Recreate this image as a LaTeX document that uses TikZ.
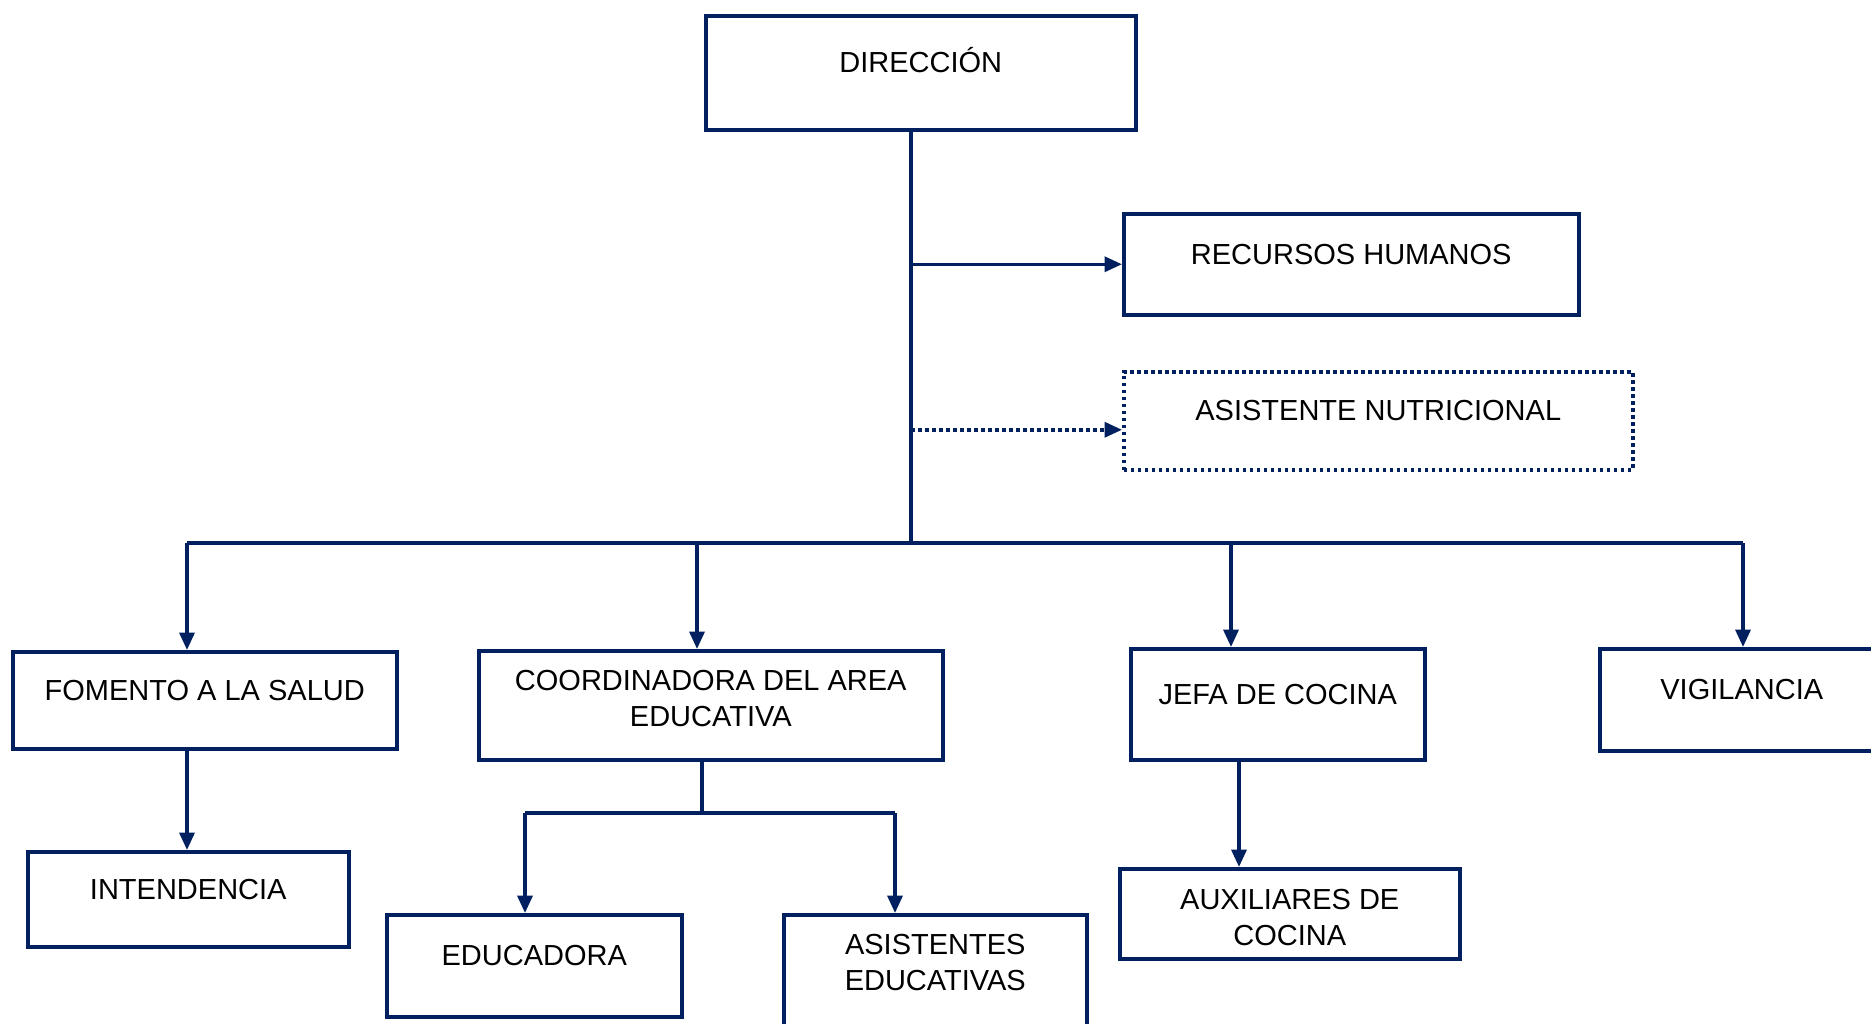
\documentclass[tikz,border=0pt]{standalone}
\usepackage{fontspec}
\setmainfont{Liberation Sans}
\usepackage{tikz}
\usetikzlibrary{calc,arrows.meta}
\definecolor{orgblue}{HTML}{002060}

\begin{document}
\begin{tikzpicture}[x=0.4pt,y=-0.4pt,
        unit/.style={draw=orgblue, line width=1.4pt, rectangle, inner sep=0pt,
            anchor=north west, align=center,
            font=\fontsize{11.6pt}{14.4pt}\selectfont},
        oneline/.style={unit, text height=8.4pt, text depth=8.4pt},
        dottedunit/.style={oneline, dash pattern=on 1.4pt off 1.4pt},
        link/.style={draw=orgblue, line width=1.4pt},
        arrow/.style={link, -{Triangle[length=7pt,width=6pt]}}]
        \useasboundingbox (0,0) rectangle (1871,1023);
        % boxes
        \node[oneline, minimum width=172pt, minimum height=45.6pt] (dir) at (704,14) {DIRECCIÓN};
        \node[oneline, minimum width=182pt, minimum height=40.4pt] (rh) at (1122,212) {RECURSOS HUMANOS};
        \node[dottedunit, minimum width=203.6pt, minimum height=39.2pt] (an) at (1122,370) {ASISTENTE NUTRICIONAL};
        \node[oneline, minimum width=153.6pt, minimum height=38.8pt] (fom) at (11,650) {FOMENTO A LA SALUD};
        \node[unit, minimum width=185.6pt, minimum height=43.6pt, text height=16.7pt, text depth=0pt] (coord) at (477,649) {COORDINADORA DEL AREA\\EDUCATIVA};
        \node[oneline, minimum width=117.6pt, minimum height=44.4pt] (jefa) at (1129,647) {JEFA DE COCINA};
        \node[oneline, minimum width=113.6pt, minimum height=40.8pt] (vig) at (1598,647) {VIGILANCIA};
        \node[oneline, minimum width=128.4pt, minimum height=38pt] (int) at (26,850) {INTENDENCIA};
        \node[oneline, minimum width=118pt, minimum height=40.8pt] (edu) at (385,913) {EDUCADORA};
        \node[unit, minimum width=121.2pt, minimum height=54.8pt, text height=5.5pt, text depth=0pt] (ase) at (782,913) {ASISTENTES\\EDUCATIVAS};
        \node[unit, minimum width=136pt, minimum height=36pt, text height=25.1pt, text depth=0pt] (aux) at (1118,867) {AUXILIARES DE\\COCINA};
        % junctions
        \coordinate (trunk) at (911,543);
        \coordinate (b1) at (187,543);
        \coordinate (b2) at (697,543);
        \coordinate (b3) at (1231,543);
        \coordinate (b4) at (1743,543);
        \coordinate (c0) at (702,813);
        \coordinate (c1) at (525,813);
        \coordinate (c2) at (895,813);
        \coordinate (jx) at (1239,0);
        \coordinate (anin) at ([yshift=-3.6pt]an.west);
        % connectors
        \draw[link] (trunk |- dir.south) -- (trunk);
        \draw[arrow] (trunk |- rh.west) -- (rh.west);
        \draw[arrow, dash pattern=on 1.4pt off 1.4pt] (trunk |- anin) -- (anin);
        \draw[link] (b1) -- (b4);
        \foreach \b/\n in {b1/fom,b2/coord,b3/jefa,b4/vig}
        \draw[arrow] (\b) -- (\b |- \n.north);
        \draw[arrow] (b1 |- fom.south) -- (b1 |- int.north);
        \draw[link] (c0 |- coord.south) -- (c0);
        \draw[link] (c1) -- (c2);
        \draw[arrow] (c1) -- (c1 |- edu.north);
        \draw[arrow] (c2) -- (c2 |- ase.north);
        \draw[arrow] (jx |- jefa.south) -- (jx |- aux.north);
    \end{tikzpicture}
\end{document}
